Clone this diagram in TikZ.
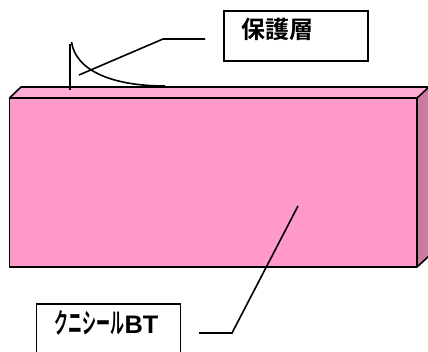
\documentclass[tikz,border=0pt]{standalone}
\usepackage{fontspec}
\setmainfont{Liberation Sans}
\newfontfamily\jpfont{Noto Sans CJK JP Bold}
\newfontfamily\jpnarrow{Noto Sans CJK JP Bold}[FakeStretch=0.5]
\definecolor{frontpink}{HTML}{FF99CC}
\definecolor{toppink}{HTML}{FFADD6}
\definecolor{sidepink}{HTML}{CC7AA3}
\tikzset{
  labelbox/.style={draw, line width=1.2pt, rectangle, inner sep=0pt, minimum width=108pt},
  leader/.style={line width=1.2pt},
  facet/.style={draw, line width=1.2pt, line join=round},
}
\begin{document}
\begin{tikzpicture}[x=0.75pt, y=-0.75pt, line cap=butt]

  \useasboundingbox (0,0) rectangle (428,351);
  \clip (0,0) rectangle (428,351);

  % coordinates
  \coordinate (FL) at (9.5,98);
  \coordinate (FR) at (417,98);
  \coordinate (BL) at (9.5,267);
  \coordinate (BR) at (417,267);
  \coordinate (TL) at (21,87);
  \coordinate (TR) at (429,87);
  \coordinate (SB) at (429,256);

  % block faces
  \filldraw[facet, fill=sidepink, draw=none] (FR) -- (TR) -- (SB) -- (BR) -- cycle;
  \filldraw[facet, fill=toppink] (FL) -- (TL) -- (TR) -- (FR) -- cycle;
  \filldraw[facet, fill=frontpink] (FL) rectangle (BR);
  \draw[facet] (BR) -- (SB);

  % label boxes
  \node[labelbox, minimum height=37.5pt] (hogo) at (296,36) {};
  \node[font=\jpfont\fontsize{18}{18}\selectfont] (hogotext) at (277.5,29) {保護層};
  \node[labelbox, minimum height=37.5pt] (kuni) at (108.5,329) {};
  \node[font=\fontsize{19}{19}\selectfont] (kunitext) at (106.5,323)
    {{\jpnarrow\fontsize{21}{21}\selectfont クニシール}\textbf{BT}};

  % protective layer
  \coordinate (CT) at (71.5,42);
  \coordinate (CE) at (165,86);
  \coordinate (VT) at (70,44);
  \coordinate (VB) at (70,90);
  \draw[leader] (CT) .. controls (76,72) and (115,86) .. (CE);
  \draw[leader] (VT) -- (VB);

  % leaders
  \coordinate (HA) at (205,39);
  \coordinate (HB) at (163,39);
  \coordinate (HC) at (79,75);
  \draw[leader] (HA) -- (HB) -- (HC);
  \coordinate (KA) at (199,333);
  \coordinate (KB) at (232,333);
  \coordinate (KC) at (298,206);
  \draw[leader] (KA) -- (KB) -- (KC);
\end{tikzpicture}
\end{document}
